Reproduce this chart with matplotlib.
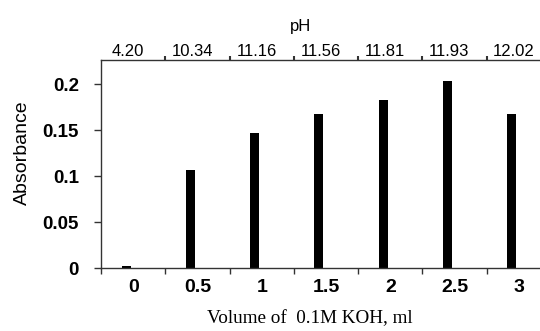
import matplotlib
matplotlib.use("Agg")
from matplotlib import pyplot as plt
from matplotlib.ticker import FixedLocator, NullFormatter

volume = ["0", "0.5", "1", "1.5", "2", "2.5", "3"]
ph = ["4.20", "10.34", "11.16", "11.56", "11.81", "11.93", "12.02"]
absorbance = [0.002, 0.107, 0.147, 0.168, 0.183, 0.204, 0.168]

W, H = 540, 331
fig = plt.figure(figsize=(W / 100, H / 100), dpi=100)
ax = fig.add_axes([101 / W, 62.7 / H, 450 / W, 208.3 / H])

pos = list(range(len(volume)))
ax.bar([p - 0.11 for p in pos], absorbance, width=0.14, color="black")

ax.set_xlim(-0.5, len(volume) - 0.5)
ax.set_ylim(0, 0.2264)

# bottom axis: ticks between categories, labels at centres
ax.xaxis.set_major_locator(FixedLocator([p - 0.5 for p in pos] + [len(pos) - 0.5]))
ax.xaxis.set_major_formatter(NullFormatter())
ax.xaxis.set_minor_locator(FixedLocator(pos))
ax.set_xticklabels(volume, minor=True, fontsize=14, fontweight="bold",
                   family="Liberation Sans")
ax.tick_params(axis="x", which="major", direction="out", length=4, width=1, color="#333333")
ax.tick_params(axis="x", which="minor", length=0, pad=8)

ax.set_yticks([0, 0.05, 0.1, 0.15, 0.2])
ax.set_yticklabels(["0", "0.05", "0.1", "0.15", "0.2"], fontsize=13.5,
                   fontweight="bold", family="Liberation Sans")
ax.tick_params(axis="y", direction="out", length=5, width=1, pad=11, color="#333333")

for s in ["left", "bottom", "top"]:
    ax.spines[s].set_color("#333333")
    ax.spines[s].set_linewidth(1)
ax.spines["right"].set_visible(False)

ax.set_ylabel("Absorbance", fontsize=14, family="Liberation Sans")
ax.yaxis.set_label_coords(-0.155, 0.555)
fig.text(310 / W, 1 - 319 / H, "Volume of  0.1M KOH, ml", fontsize=13.8,
         family="Liberation Serif", ha="center", va="center")

# top pH axis
top = ax.secondary_xaxis("top")
top.xaxis.set_major_locator(FixedLocator([p + 0.5 for p in pos]))
top.xaxis.set_major_formatter(NullFormatter())
top.xaxis.set_minor_locator(FixedLocator([p - 0.08 for p in pos]))
top.set_xticklabels(ph, minor=True, fontsize=12, family="Liberation Sans")
top.tick_params(axis="x", which="major", direction="out", length=3, width=1.5, color="#333333")
top.tick_params(axis="x", which="minor", length=0, pad=1)
top.spines["top"].set_visible(False)
fig.text(301 / W, 1 - 27 / H, "pH", fontsize=12, family="Liberation Sans",
         ha="center", va="center")

fig.savefig("out.png", dpi=100)
